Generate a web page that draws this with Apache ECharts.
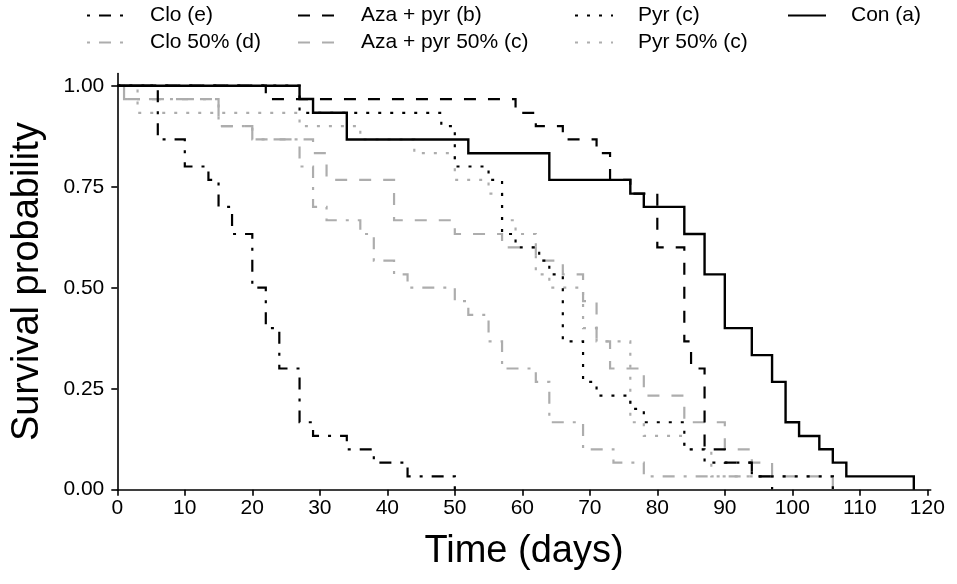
<!DOCTYPE html>
<html>
<head>
<meta charset="utf-8">
<script src="https://cdn.jsdelivr.net/npm/echarts@6/dist/echarts.min.js"></script>
<style>
html,body{margin:0;padding:0;background:#fff;}
#chart{width:957px;height:584px;}
</style>
</head>
<body>
<div id="chart"></div>
<script>
// ---- data ----
const xTicks = [0,10,20,30,40,50,60,70,80,90,100,110,120];
const yTicks = [0,0.25,0.5,0.75,1];
const yTickLabels = ['0.00','0.25','0.50','0.75','1.00'];

const seriesNames = ['Clo (e)','Clo 50% (d)','Aza + pyr (b)','Aza + pyr 50% (c)','Pyr (c)','Pyr 50% (c)','Con (a)'];

const cloT = [0,6,10,13.5,15,17,20,22,24,27,29,34,38,43,50];
const cloS = [1,0.867,0.8,0.767,0.7,0.633,0.5,0.4,0.3,0.167,0.133,0.1,0.067,0.033,0];

const clo50T = [0,1,15,20,27,29,31,36,38,41,43,50,52,55,57,62,64,69,73.5,78,97];
const clo50S = [1,0.967,0.9,0.867,0.8,0.7,0.667,0.633,0.567,0.533,0.5,0.467,0.433,0.367,0.3,0.267,0.167,0.1,0.067,0.033,0];

const azaT = [0,22,59,62,66,71,73,76,80,84,85,87,90,94,97];
const azaS = [1,0.967,0.933,0.9,0.867,0.833,0.767,0.733,0.6,0.367,0.3,0.1,0.067,0.033,0];

const aza50T = [0,1,15,20,29,31,41,50,57,62,66,69,71,73,78,84,90,94,97,106];
const aza50S = [1,0.967,0.9,0.867,0.833,0.767,0.667,0.633,0.6,0.567,0.533,0.467,0.367,0.3,0.233,0.167,0.1,0.067,0.033,0];

const pyrT = [0,27,48,50,55,57,59,62.5,64,66,69,71,76,78,84,87,94,106];
const pyrS = [1,0.933,0.9,0.8,0.767,0.633,0.6,0.567,0.533,0.367,0.267,0.233,0.2,0.167,0.1,0.067,0.033,0];

const pyr50T = [0,3,27,36,44,50,55,57,59,62,64,69,71,76,78,84,88,106];
const pyr50S = [1,0.933,0.9,0.867,0.833,0.767,0.733,0.667,0.633,0.533,0.5,0.4,0.367,0.167,0.133,0.1,0.033,0];

const conT = [0,27,29,34,52,64,76,78,84,87,90,94,97,99,101,104,106,108,118];
const conS = [1,0.967,0.933,0.867,0.833,0.767,0.733,0.7,0.633,0.533,0.4,0.333,0.267,0.167,0.133,0.1,0.067,0.033,0];

// ---- styling ----
const BLACK = '#000000';
const GRAY = '#adadad';
const DOTDASH = [3,9,12,9];
const DASHED = [12,12];
const DOTTED = [3,9];
const FONT = 'Liberation Sans, Arial, sans-serif';

function pairs(t, s){ return t.map((v,i)=>[v, s[i]]); }

function mk(name, t, s, color, dash, width){
  return {
    name: name,
    type: 'line',
    step: 'end',
    symbol: 'none',
    data: pairs(t, s),
    lineStyle: {color: color, width: width, type: dash, cap: 'butt', join: 'miter'},
    itemStyle: {color: color},
    emphasis: {disabled: true},
    animation: false,
    z: 2
  };
}

const series = [
  mk(seriesNames[1], clo50T, clo50S, GRAY, DOTDASH, 2.2),
  mk(seriesNames[3], aza50T, aza50S, GRAY, DASHED, 2.2),
  mk(seriesNames[5], pyr50T, pyr50S, GRAY, DOTTED, 2.2),
  mk(seriesNames[0], cloT, cloS, BLACK, DOTDASH, 2.2),
  mk(seriesNames[2], azaT, azaS, BLACK, DASHED, 2.2),
  mk(seriesNames[4], pyrT, pyrS, BLACK, DOTTED, 2.2),
  mk(seriesNames[6], conT, conS, BLACK, 'solid', 2.4)
];

function legendCol(left, names){
  return {
    orient: 'vertical',
    left: left,
    top: 0,
    itemWidth: 38,
    itemHeight: 20,
    itemGap: 6,
    selectedMode: false,
    itemStyle: {opacity: 0},
    textStyle: {fontFamily: FONT, fontSize: 21, color: '#000', padding: [0,0,0,20]},
    data: names
  };
}

const chart = echarts.init(document.getElementById('chart'), null, {renderer: 'canvas'});
chart.setOption({
  backgroundColor: '#ffffff',
  animation: false,
  grid: {left: 117.3, right: 26.3, top: 73.6, bottom: 94.3, containLabel: false},
  legend: [
    legendCol(81, [seriesNames[0], seriesNames[1]]),
    legendCol(292, [seriesNames[2], seriesNames[3]]),
    legendCol(569, [seriesNames[4], seriesNames[5]]),
    legendCol(782, [seriesNames[6]])
  ],
  xAxis: {
    type: 'value',
    min: 0, max: 120.5,
    name: 'Time (days)',
    nameLocation: 'middle',
    nameGap: 43,
    nameTextStyle: {fontFamily: FONT, fontSize: 38, color: '#000'},
    axisLine: {show: true, onZero: false, lineStyle: {color: '#000', width: 1.6}},
    axisTick: {show: true, length: 6, lineStyle: {color: '#000', width: 1.6}, customValues: xTicks},
    axisLabel: {fontFamily: FONT, fontSize: 21, color: '#000', margin: 8, customValues: xTicks,
      formatter: v => String(v)},
    splitLine: {show: false}
  },
  yAxis: {
    type: 'value',
    min: 0, max: 1.03,
    name: 'Survival probability',
    nameLocation: 'middle',
    nameGap: 71,
    nameRotate: 90,
    nameTextStyle: {fontFamily: FONT, fontSize: 38, color: '#000'},
    axisLine: {show: true, onZero: false, lineStyle: {color: '#000', width: 1.6}},
    axisTick: {show: true, length: 6, lineStyle: {color: '#000', width: 1.6}, customValues: yTicks},
    axisLabel: {fontFamily: FONT, fontSize: 21, color: '#000', margin: 13, customValues: yTicks,
      formatter: v => { const i = yTicks.findIndex(t => Math.abs(t - v) < 1e-6); return i >= 0 ? yTickLabels[i] : ''; }},
    splitLine: {show: false}
  },
  series: series
});
</script>
</body>
</html>
